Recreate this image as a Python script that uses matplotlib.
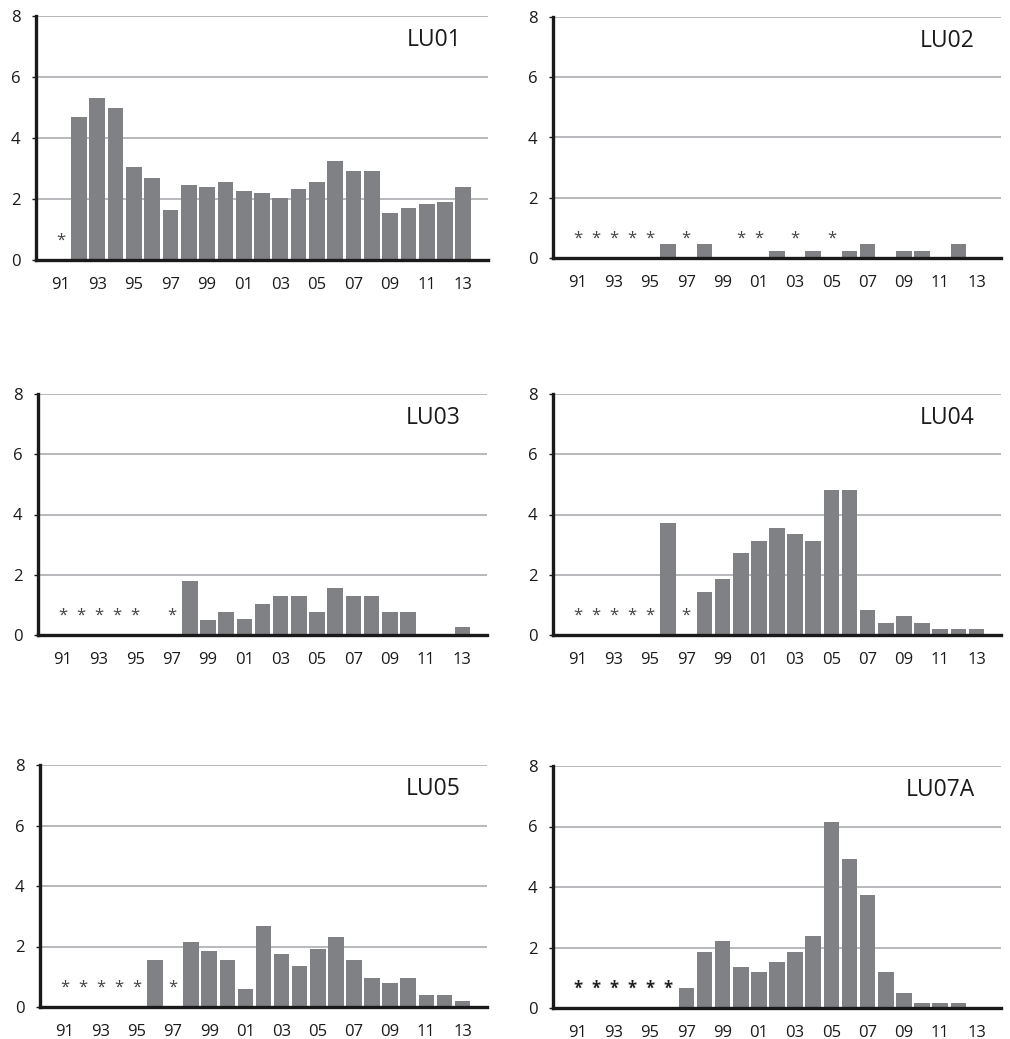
import numpy as np
import matplotlib
matplotlib.use("Agg")
import matplotlib.pyplot as plt

plt.rcParams["font.family"] = ["Open Sans", "DejaVu Sans"]

years = ["91", "92", "93", "94", "95", "96", "97", "98", "99", "00", "01", "02",
         "03", "04", "05", "06", "07", "08", "09", "10", "11", "12", "13"]
tick_labels = years[::2]

# values per site; None = no data (shown with an asterisk)
lu01 = [None, 4.69, 5.31, 4.98, 3.05, 2.69, 1.64, 2.46, 2.39, 2.56, 2.26, 2.20,
        2.03, 2.33, 2.56, 3.25, 2.92, 2.92, 1.54, 1.70, 1.84, 1.90, 2.39]
lu02 = [None, None, None, None, None, 0.47, None, 0.47, 0, None, None, 0.24,
        None, 0.24, None, 0.24, 0.47, 0, 0.24, 0.24, 0, 0.47, 0]
lu03 = [None, None, None, None, None, 0, None, 1.79, 0.50, 0.76, 0.53, 1.03,
        1.29, 1.29, 0.76, 1.56, 1.29, 1.29, 0.76, 0.76, 0, 0, 0.27]
lu04 = [None, None, None, None, None, 3.72, None, 1.43, 1.86, 2.72, 3.12, 3.55,
        3.35, 3.12, 4.81, 4.81, 0.83, 0.40, 0.63, 0.40, 0.20, 0.20, 0.20]
lu05 = [None, None, None, None, None, 1.55, None, 2.14, 1.85, 1.55, 0.59, 2.67,
        1.75, 1.35, 1.91, 2.31, 1.55, 0.95, 0.78, 0.95, 0.39, 0.39, 0.19]
lu07a = [None, None, None, None, None, None, 0.67, 1.86, 2.22, 1.36, 1.20, 1.53,
         1.86, 2.39, 6.15, 4.93, 3.74, 1.20, 0.51, 0.18, 0.18, 0.18, 0]

sites = ["LU01", "LU02", "LU03", "LU04", "LU05", "LU07A"]
series = [lu01, lu02, lu03, lu04, lu05, lu07a]

W, H = 1010, 1039
# axes boxes in pixels: left, top, right, bottom
boxes = [(36, 16, 488, 260), (553, 17, 1001, 258),
         (38, 394, 487, 635), (553, 394, 1001, 635),
         (40, 765, 487, 1007), (553, 766, 1001, 1008)]

BAR = "#808184"
GRID = "#b1b3b6"

fig = plt.figure(figsize=(W / 100, H / 100), dpi=100)
x = np.arange(len(years))

for (l, t, r, b), name, vals in zip(boxes, sites, series):
    ax = fig.add_axes([l / W, 1 - b / H, (r - l) / W, (b - t) / H])
    heights = [0 if v is None else v for v in vals]
    ax.bar(x, heights, width=0.86, color=BAR, zorder=2)
    for i, v in enumerate(vals):
        if v is None:
            ax.text(i, 0.64, "*", ha="center", va="center", fontsize=12,
                    color="#222222" if name == "LU07A" else "#444444",
                    fontweight="bold" if name == "LU07A" else "normal",
                    zorder=3)
    ax.set_xlim(-1.35, 23.35)
    ax.set_ylim(0, 8)
    ax.set_yticks([0, 2, 4, 6, 8])
    ax.set_xticks(x[::2])
    ax.set_xticklabels(tick_labels)
    ax.grid(axis="y", color=GRID, linewidth=1.3, zorder=0)
    ax.set_axisbelow(True)
    for s in ["top", "right"]:
        ax.spines[s].set_visible(False)
    for s in ["left", "bottom"]:
        ax.spines[s].set_linewidth(2.4)
        ax.spines[s].set_color("#1a1a1a")
        ax.spines[s].set_zorder(4)
    ax.tick_params(axis="x", length=0, pad=12, labelsize=12, colors="#1a1a1a")
    ax.tick_params(axis="y", length=3, width=1, pad=8, labelsize=12, colors="#1a1a1a")
    ax.text(21.9, 7.2, name, ha="right", va="center", fontsize=16.5, color="#1a1a1a")

fig.savefig("out.png", dpi=100)
